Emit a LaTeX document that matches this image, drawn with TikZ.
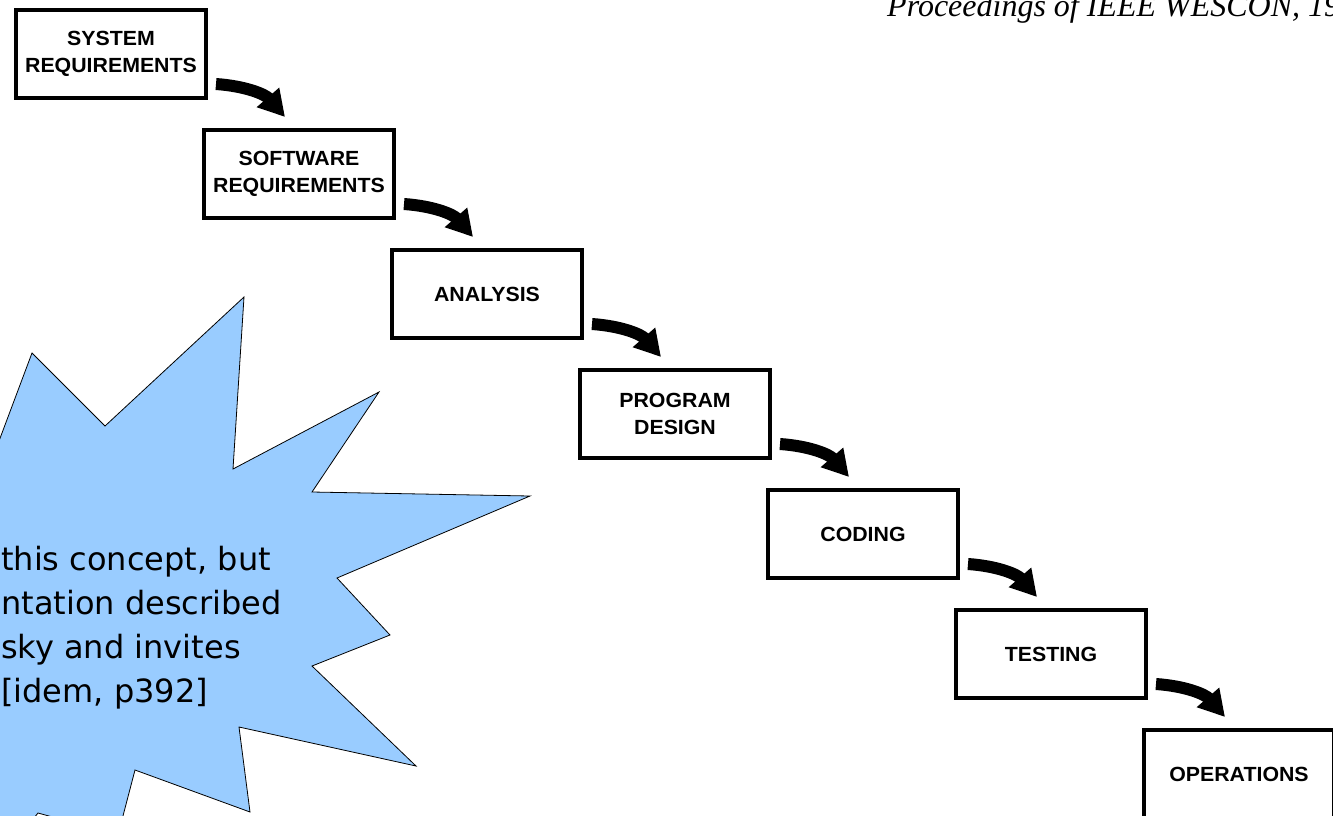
\documentclass[tikz,border=0pt]{standalone}
\usepackage{fontspec}
\usepackage{tikz}
\usetikzlibrary{arrows.meta,positioning}
\newfontfamily\boxfont[FakeStretch=1.04]{Liberation Sans}
\newfontfamily\notefont{DejaVu Sans}
\newfontfamily\srcfont{Liberation Serif}
\definecolor{burstblue}{HTML}{99CCFF}
\tikzset{
  stage/.style={draw=black, line width=3.5pt, minimum width=190pt, minimum height=88pt,
                inner sep=0pt, outer sep=0pt, align=center,
                font=\boxfont\bfseries\fontsize{20.5}{26.7}\selectfont},
  fall/.style={-{Triangle[width=28pt,length=26pt]}, line width=12pt, draw=black},
  burst/.style={fill=burstblue, draw=black, line width=0.8pt, line join=miter},
}
\begin{document}
\begin{tikzpicture}[x=1pt, y=1pt]
    \useasboundingbox (0,0) rectangle (1333,-815);
    \clip (0,0) rectangle (1333,-815);
    % callout star, cut by the left and bottom edges
    \draw[burst] (-10,-465) -- (32,-353) -- (105,-426) -- (244,-297) -- (233,-469)
      -- (379,-392) -- (312,-492) -- (530,-496) -- (337,-578) -- (390,-635)
      -- (312,-666) -- (416,-766) -- (239,-727) -- (250,-812) -- (135,-770)
      -- (118,-835) -- (38,-813) -- (0,-860) -- (-60,-860) -- cycle;
    \node[anchor=north west, inner sep=0pt, align=left,
          font=\notefont\fontsize{32}{44}\selectfont] (note) at (1,-546)
      {this concept, but\\ntation described\\sky and invites\\{}[idem, p392]};
    \node[anchor=base west, inner sep=0pt, font=\srcfont\itshape\fontsize{32}{38}\selectfont]
      (src) at (887,-16) {Proceedings of IEEE WESCON, 19};
    % the stages
    \node[stage, anchor=north west] (s1) at (16,-10) {SYSTEM\\REQUIREMENTS};
    \node[stage, below right=32pt and -2pt of s1] (s2) {SOFTWARE\\REQUIREMENTS};
    \node[stage, below right=32pt and -2pt of s2] (s3) {ANALYSIS};
    \node[stage, below right=32pt and -2pt of s3] (s4) {PROGRAM\\DESIGN};
    \node[stage, below right=32pt and -2pt of s4] (s5) {CODING};
    \node[stage, below right=32pt and -2pt of s5] (s6) {TESTING};
    \node[stage, below right=32pt and -2pt of s6] (s7) {OPERATIONS};
    \draw[fall] ([shift={(10pt,14pt)}]s1.south east) to[out=-4,in=131] ([shift={(-14pt,13pt)}]s2.north);
    \draw[fall] ([shift={(10pt,14pt)}]s2.south east) to[out=-4,in=131] ([shift={(-14pt,13pt)}]s3.north);
    \draw[fall] ([shift={(10pt,14pt)}]s3.south east) to[out=-4,in=131] ([shift={(-14pt,13pt)}]s4.north);
    \draw[fall] ([shift={(10pt,14pt)}]s4.south east) to[out=-4,in=131] ([shift={(-14pt,13pt)}]s5.north);
    \draw[fall] ([shift={(10pt,14pt)}]s5.south east) to[out=-4,in=131] ([shift={(-14pt,13pt)}]s6.north);
    \draw[fall] ([shift={(10pt,14pt)}]s6.south east) to[out=-4,in=131] ([shift={(-14pt,13pt)}]s7.north);
\end{tikzpicture}
\end{document}
